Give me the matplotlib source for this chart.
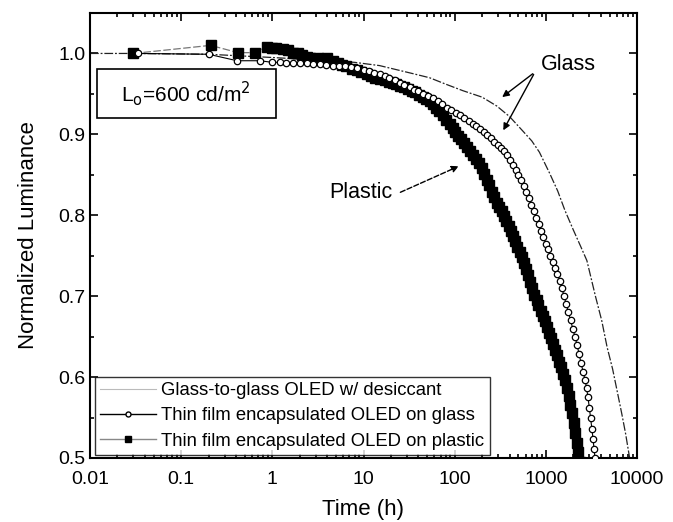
import matplotlib.pyplot as plt
from matplotlib.lines import Line2D
from matplotlib.patches import Rectangle
from matplotlib.ticker import FixedLocator, FixedFormatter, LogLocator, MultipleLocator
import numpy as np

plt.rcParams['font.family'] = ['Liberation Sans', 'DejaVu Sans']

# Glass-to-glass OLED w/ desiccant (thin line)
g2g_time = [0.01, 0.03, 0.2, 1, 3, 8, 15, 35, 53, 80, 123, 200, 290, 400, 550, 700,
            850, 1100, 1350, 1620, 2000, 2400, 2820, 3500, 4100, 4700, 5400, 6000,
            6800, 7500, 8300]
g2g_lum = [1.000, 1.000, 0.999, 0.995, 0.992, 0.989, 0.985, 0.975, 0.970, 0.962, 0.954,
           0.946, 0.935, 0.922, 0.905, 0.892, 0.878, 0.852, 0.830, 0.806, 0.782, 0.762,
           0.744, 0.700, 0.670, 0.637, 0.610, 0.585, 0.555, 0.530, 0.500]

# Thin film encapsulated OLED on glass (open circles)
tfg_time = [0.034, 0.2, 0.41, 0.73, 1.0, 1.2, 1.4, 1.7, 2.0, 2.4, 2.8, 3.3, 3.9, 4.6,
            5.4, 6.3, 7.3, 8.5, 10, 11.5, 13, 15, 17, 19, 22, 25, 28, 32, 36, 40, 45,
            51, 58, 65, 73, 82, 92, 103, 115, 128, 142, 157, 173, 190, 208, 228, 250,
            273, 297, 322, 348, 376, 405, 435, 467, 500, 535, 571, 610, 650, 692, 737,
            784, 833, 885, 940, 998, 1060, 1125, 1195, 1265, 1340, 1420, 1500, 1585,
            1675, 1770, 1870, 1975, 2085, 2200, 2320, 2440, 2570, 2700, 2800, 2900,
            3000, 3100, 3200, 3300, 3380, 3460]
tfg_lum = [1.000, 0.999, 0.991, 0.991, 0.989, 0.989, 0.988, 0.988, 0.988, 0.988, 0.987,
           0.987, 0.986, 0.985, 0.985, 0.984, 0.983, 0.982, 0.980, 0.978, 0.976, 0.974,
           0.972, 0.970, 0.967, 0.964, 0.961, 0.958, 0.955, 0.953, 0.950, 0.948, 0.945,
           0.941, 0.937, 0.933, 0.930, 0.927, 0.924, 0.920, 0.916, 0.913, 0.910, 0.907,
           0.903, 0.899, 0.895, 0.891, 0.887, 0.883, 0.879, 0.874, 0.868, 0.862, 0.856,
           0.850, 0.843, 0.836, 0.829, 0.821, 0.813, 0.805, 0.797, 0.789, 0.781, 0.773,
           0.765, 0.758, 0.750, 0.742, 0.735, 0.728, 0.719, 0.710, 0.700, 0.690, 0.680,
           0.670, 0.660, 0.650, 0.640, 0.628, 0.617, 0.606, 0.596, 0.586, 0.575, 0.562,
           0.549, 0.536, 0.523, 0.511, 0.500]

# Thin film encapsulated OLED on plastic (filled squares)
tfp_time = [0.03, 0.21, 0.42, 0.64, 0.87, 1.0, 1.1, 1.3, 1.5, 1.7, 1.9, 2.1, 2.4, 2.6,
            3.2, 4.0, 4.6, 5.2, 5.8, 6.5, 7.5, 8.5, 9.5, 11, 12, 13.5, 15, 17, 19, 21,
            23, 25, 28, 31, 34, 37, 41, 45, 49, 53, 58, 63, 68, 74, 81, 88, 95, 102,
            110, 118, 127, 137, 148, 160, 172, 185, 198, 212, 226, 241, 257, 273, 290,
            308, 327, 347, 368, 390, 413, 437, 462, 488, 515, 545, 575, 607, 640, 675,
            712, 750, 790, 830, 875, 920, 970, 1020, 1070, 1130, 1190, 1250, 1320, 1390,
            1460, 1540, 1620, 1700, 1780, 1860, 1940, 2020, 2100, 2180, 2260, 2350]
tfp_lum = [1.000, 1.010, 1.001, 1.001, 1.008, 1.007, 1.007, 1.006, 1.004, 1.001, 1.000,
           0.998, 0.996, 0.995, 0.994, 0.994, 0.991, 0.988, 0.986, 0.984, 0.981, 0.979,
           0.977, 0.974, 0.972, 0.970, 0.969, 0.967, 0.965, 0.963, 0.962, 0.960, 0.958,
           0.956, 0.954, 0.952, 0.949, 0.946, 0.944, 0.941, 0.937, 0.933, 0.929, 0.924,
           0.918, 0.913, 0.908, 0.903, 0.898, 0.894, 0.889, 0.884, 0.879, 0.874, 0.869,
           0.864, 0.858, 0.851, 0.844, 0.837, 0.829, 0.822, 0.815, 0.810, 0.805, 0.799,
           0.793, 0.787, 0.781, 0.774, 0.768, 0.761, 0.755, 0.748, 0.741, 0.734, 0.726,
           0.718, 0.710, 0.702, 0.695, 0.689, 0.682, 0.675, 0.669, 0.662, 0.655, 0.648,
           0.641, 0.634, 0.627, 0.619, 0.612, 0.604, 0.596, 0.587, 0.577, 0.566, 0.555,
           0.543, 0.531, 0.519, 0.507, 0.495]

x_ticks = [0.01, 0.1, 1, 10, 100, 1000, 10000]
x_labels = ['0.01', '0.1', '1', '10', '100', '1000', '10000']
y_ticks = [0.5, 0.6, 0.7, 0.8, 0.9, 1.0]
y_labels = ['0.5', '0.6', '0.7', '0.8', '0.9', '1.0']

fig = plt.figure(figsize=(6.73, 5.22), dpi=100)
ax = fig.add_axes([90 / 673, 64 / 522, 547 / 673, 445 / 522])

ax.plot(g2g_time, g2g_lum, color='#222222', lw=0.9, ls=(0, (7, 1.5, 1.5, 1.5)), zorder=2)
ax.plot(tfg_time, tfg_lum, color='black', lw=0.8, marker='o', ms=4.6,
        mfc='white', mec='black', mew=0.9, zorder=4)
ax.plot(tfp_time, tfp_lum, color='#777777', lw=0.9, ls=(0, (6, 2)), marker='s', ms=6.5,
        mfc='black', mec='black', zorder=3)

ax.set_xscale('log')
ax.set_xlim(0.01, 10000)
ax.set_ylim(0.5, 1.05)
ax.xaxis.set_major_locator(FixedLocator(x_ticks))
ax.xaxis.set_major_formatter(FixedFormatter(x_labels))
ax.xaxis.set_minor_locator(LogLocator(base=10, subs=np.arange(2, 10), numticks=20))
ax.yaxis.set_major_locator(FixedLocator(y_ticks))
ax.yaxis.set_major_formatter(FixedFormatter(y_labels))
ax.yaxis.set_minor_locator(MultipleLocator(0.05))

ax.tick_params(which='both', direction='in', top=True, right=True, width=1.2,
               labelsize=14)
ax.tick_params(which='major', length=6)
ax.tick_params(which='minor', length=3)
ax.tick_params(axis='x', which='major', pad=9)
for s in ax.spines.values():
    s.set_linewidth(1.5)

ax.set_xlabel('Time (h)', fontsize=16, labelpad=8)
ax.set_ylabel('Normalized Luminance', fontsize=16, labelpad=14)

# Lo box
ax.add_patch(Rectangle((7 / 547, 0.920), 179 / 547, 0.061, transform=ax.get_yaxis_transform(),
                       fc='white', ec='black', lw=1.2, zorder=5))
ax.text(96 / 547, 0.950, r'L$_{\rm o}$=600 cd/m$^2$', transform=ax.get_yaxis_transform(),
        fontsize=15, va='center', ha='center', zorder=6)

# annotations
ax.annotate('', xy=(314, 0.944), xytext=(760, 0.977),
            arrowprops=dict(arrowstyle='-|>', color='black', lw=1.0, mutation_scale=10))
ax.annotate('', xy=(330, 0.902), xytext=(760, 0.977),
            arrowprops=dict(arrowstyle='-|>', color='black', lw=1.0, mutation_scale=10))
ax.text(1780, 0.986, 'Glass', fontsize=15.5, ha='center', va='center')
ax.annotate('', xy=(118, 0.862), xytext=(23.8, 0.827),
            arrowprops=dict(arrowstyle='-|>', color='black', lw=1.0, ls='--',
                            mutation_scale=10))
ax.text(20.6, 0.828, 'Plastic', fontsize=15.5, ha='right', va='center')

handles = [
    Line2D([], [], color='#bbbbbb', lw=0.8),
    Line2D([], [], color='black', lw=1.0, marker='o', ms=3.6, mfc='white', mec='black'),
    Line2D([], [], color='#888888', lw=1.0, marker='s', ms=5, mfc='black', mec='black'),
]
labels = ['Glass-to-glass OLED w/ desiccant',
          'Thin film encapsulated OLED on glass',
          'Thin film encapsulated OLED on plastic']
leg = ax.legend(handles, labels, loc='lower left', bbox_to_anchor=(0.009, 0.006),
                fontsize=13.3, frameon=True, fancybox=False, edgecolor='black',
                handlelength=3.0, handletextpad=0.3, borderpad=0.3, labelspacing=0.45,
                borderaxespad=0)
leg.get_frame().set_linewidth(1.0)
leg.set_zorder(6)

fig.savefig('out.png', dpi=100)
